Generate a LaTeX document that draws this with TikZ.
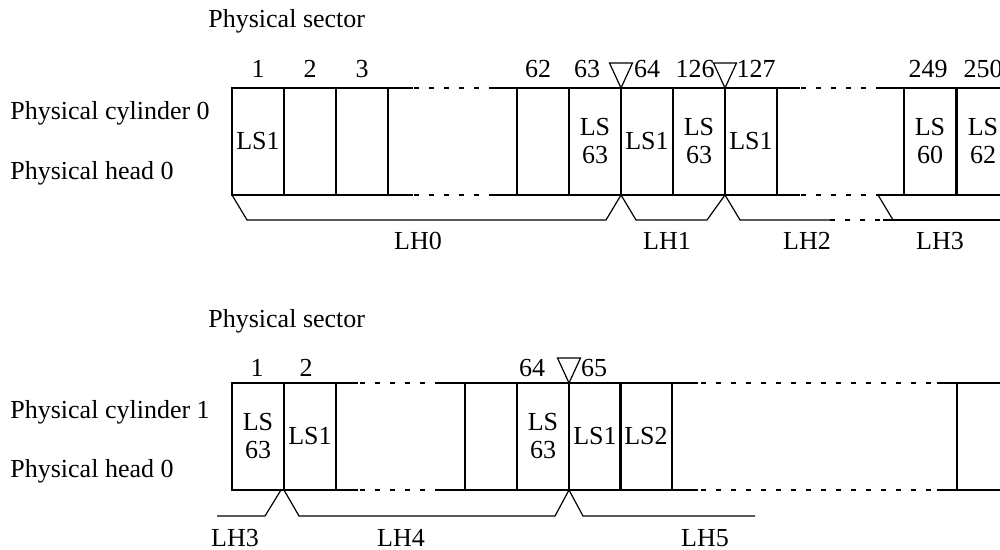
\documentclass[tikz,border=0pt]{standalone}
\usepackage{fontspec}
\setmainfont{Liberation Serif}
\usetikzlibrary{positioning}

\begin{document}
\begin{tikzpicture}[
    x=0.5pt, y=-0.5pt,
    every node/.style={font=\fontsize{13}{14}\selectfont, inner sep=0pt},
    cell/.style={draw, line width=0.6pt, anchor=north west, outer sep=0pt,
        minimum width=26pt, minimum height=53.5pt, align=center},
    tag/.style={anchor=base west},
    num/.style={anchor=base},
    rim/.style={line width=0.6pt},
    gap/.style={line width=0.75pt, dash pattern=on 2.5pt off 5pt},
]
\useasboundingbox (0,0) rectangle (1000,550);
\clip (0,0) rectangle (1000,550);

% ---------------------------------------------------------------- cylinder 0
\node[tag] (sec0) at (208,28) {Physical sector};
\node[tag] (cyl0) at (10,120) {Physical cylinder 0};
\node[tag] (hd0)  at (10,180) {Physical head 0};

\foreach \i/\x/\t in {1/232/LS1, 2/284/{}, 3/336/{}, 4/517/{}, 5/569/{LS\\63},
    6/621/LS1, 7/673/{LS\\63}, 8/725/LS1, 9/904/{LS\\60}, 10/957/{LS\\62}}{
    \node[cell] (a\i) at (\x,88) {\t};
}
\foreach \n/\x in {1/258, 2/310, 3/362, 62/538, 63/587, 64/647,
    126/695, 127/756, 249/928, 250/983}{
    \node[num] (an\n) at (\x,78) {\n};
}

% rims across the missing sectors
\foreach \l/\r in {north east/north west, south east/south west}{
    \draw[rim] (a3.\l) -- ++(25,0);
    \draw[gap] ([xshift=13pt]a3.\l) -- ([xshift=-12pt]a4.\r);
    \draw[rim] ([xshift=-12pt]a4.\r) -- (a4.\r);
    \draw[rim] (a8.\l) -- ++(23,0);
    \draw[gap] ([xshift=12pt]a8.\l) -- ([xshift=-13pt]a9.\r);
    \draw[rim] ([xshift=-13pt]a9.\r) -- (a9.\r);
}

% index marks
\foreach \c in {a5, a7}{
    \draw[rim] (\c.north east) -- ++(-11.5,-25) -- ++(23,0) -- cycle;
}

% logical heads
\coordinate (h2) at (830,220);
\coordinate (h3) at (883,220);
\coordinate (h3top) at (878,195);
\draw[rim] (a1.south west) -- ++(15,25)
    -- ([shift={(-15,25)}]a6.south west) -- (a6.south west);
\draw[rim] (a6.south west) -- ++(15,25)
    -- ([shift={(-18,25)}]a8.south west) -- (a8.south west);
\draw[rim] (a8.south west) -- ++(15,25) -- (h2);
\draw[gap] (h2) -- (h3);
\draw[rim] (h3) -- ++(120,0);
\draw[rim] (h3top) -- ++(15,25);

\node[num] (lh0) at (418,250) {LH0};
\node[num] (lh1) at (667,250) {LH1};
\node[num] (lh2) at (807,250) {LH2};
\node[num] (lh3) at (940,250) {LH3};

% ---------------------------------------------------------------- cylinder 1
\node[tag] (sec1) at (208,328) {Physical sector};
\node[tag] (cyl1) at (10,418) {Physical cylinder 1};
\node[tag] (hd1)  at (10,477) {Physical head 0};

\foreach \i/\x/\t in {1/232/{LS\\63}, 2/284/LS1, 3/465/{}, 4/517/{LS\\63},
    5/569/LS1, 6/620/LS2, 7/957/{}}{
    \node[cell] (b\i) at (\x,383) {\t};
}
\foreach \n/\x in {1/257, 2/306, 64/532, 65/594}{
    \node[num] (bn\n) at (\x,377) {\n};
}

\foreach \l/\r in {north east/north west, south east/south west}{
    \draw[rim] (b2.\l) -- ++(22,0);
    \draw[gap] ([xshift=12pt]b2.\l) -- ([xshift=-12.5pt]b3.\r);
    \draw[rim] ([xshift=-12.5pt]b3.\r) -- (b3.\r);
    \draw[rim] (b6.\l) -- ++(26,0);
    \draw[gap] ([xshift=14.5pt]b6.\l) -- ([xshift=-10pt]b7.\r);
    \draw[rim] ([xshift=-10pt]b7.\r) -- (b7.\r);
}

\draw[rim] (b4.north east) -- ++(-11.5,-25) -- ++(23,0) -- cycle;

\coordinate (t3) at (217,516);
\draw[rim] (t3) -- ++(48,0) -- ([xshift=-1.5pt]b2.south west);
\draw[rim] (b2.south west) -- ++(15,26)
    -- ([shift={(-14,26)}]b5.south west) -- (b5.south west);
\draw[rim] (b5.south west) -- ++(14,26) -- ++(172,0);

\node[num] (lh3b) at (235,546) {LH3};
\node[num] (lh4)  at (401,546) {LH4};
\node[num] (lh5)  at (705,546) {LH5};

\end{tikzpicture}
\end{document}
